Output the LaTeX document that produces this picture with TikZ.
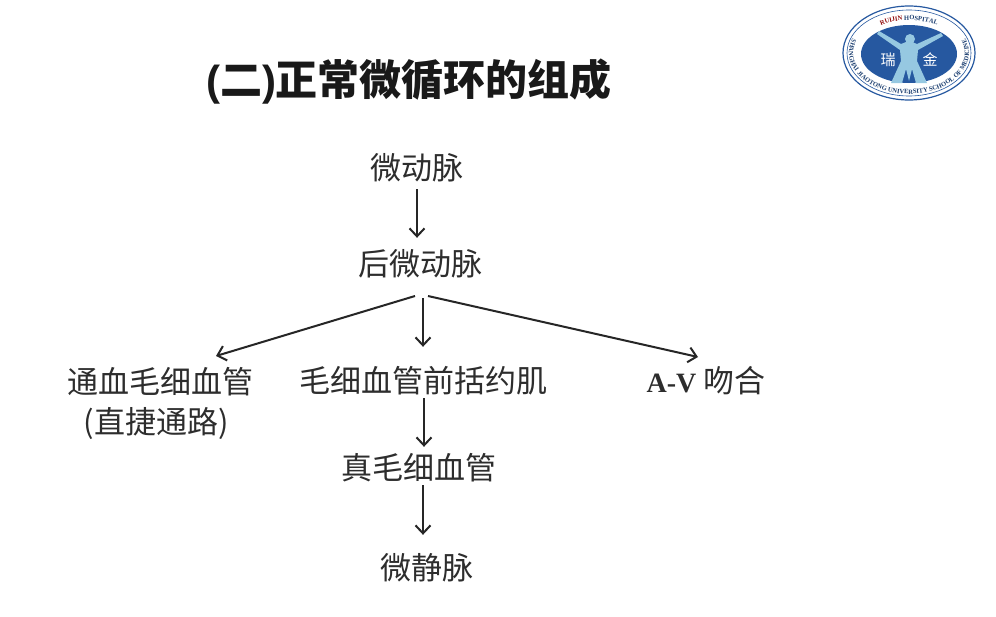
\documentclass[tikz,border=0pt]{standalone}
\usepackage{fontspec}
\usetikzlibrary{decorations.text,arrows.meta}
\setmainfont{Noto Sans CJK SC}
\newfontfamily\latinbold{Liberation Sans}
\newfontfamily\serifbold{Liberation Serif}
\definecolor{logoblue}{RGB}{38,88,160}
\definecolor{logofig}{RGB}{150,200,225}
\definecolor{bodyink}{RGB}{45,45,45}
\begin{document}
\begin{tikzpicture}[x=1pt,y=-1pt,
  every node/.style={inner sep=0pt, minimum height=44pt, text=bodyink, font=\fontsize{31}{36}\selectfont},
  arr/.style={-{Straight Barb[length=8pt,width=15pt]}, line width=2pt, black!85}]
  \path[use as bounding box, fill=white] (0,0) rectangle (996,616);
  \node (title) at (409,82) [text=black!90, font=\fontsize{42}{46}\selectfont\bfseries] {{\latinbold\bfseries (}二{\latinbold\bfseries )}正常微循环的组成};
  \node (weidong) at (417,168) {微动脉};
  \node (houwei) at (420,264) {后微动脉};
  \node (tongxue) at (160,382) {通血毛细血管};
  \node (zhijie) at (156,423) {\fontsize{31}{32}\selectfont (直捷通路)};
  \node (maoqian) at (423,381) {毛细血管前括约肌};
  \node (avwen) at (706,381) {{\serifbold\bfseries\fontsize{28}{30}\selectfont A-V} 吻合};
  \node (zhenmao) at (419,468) {真毛细血管};
  \node (weijing) at (427,568) {微静脉};
  \coordinate (fork) at (423,296);
  \draw[arr] ([yshift=1pt]weidong.south) -- ([xshift=-3pt,yshift=4pt]houwei.north);
  \draw[arr] ([xshift=-8pt]fork) -- (216,356);
  \draw[arr] ([yshift=-2pt]fork) -- ([yshift=12pt]maoqian.north);
  \draw[arr] ([xshift=5pt]fork) -- (698,357);
  \draw[arr] ([xshift=1pt,yshift=5pt]maoqian.south) -- ([xshift=5pt,yshift=-1pt]zhenmao.north);
  \draw[arr] ([xshift=4pt,yshift=5pt]zhenmao.south) -- ([xshift=-4pt,yshift=11pt]weijing.north);
  % logo
  \begin{scope}[shift={(909,53)}]
    \draw[logoblue, line width=1.2pt, fill=white] (0,0) ellipse [x radius=66pt, y radius=47pt];
    \draw[logoblue, line width=.6pt] (0,0) ellipse [x radius=62pt, y radius=43pt];
    \fill[logoblue] (0,1) ellipse [x radius=48pt, y radius=29pt];
    \fill[logofig] (-30,-22) -- (-8,-9) -- (-3,-11) -- (3,-11) -- (8,-9) -- (32,-20) -- (34,-17) -- (9,-3) -- (8,8) -- (18,30) -- (7,30) -- (3,16) -- (0,28) -- (-3,16) -- (-7,30) -- (-18,30) -- (-8,8) -- (-9,-3) -- (-32,-19) -- cycle;
    \fill[logofig] (1,-14) circle [radius=5pt];
    \node (rui) at (-21,7) [text=white, font=\fontsize{15}{15}\selectfont] {瑞};
    \node (jin) at (21,7) [text=white, font=\fontsize{15}{15}\selectfont] {金};
    \path[decorate, decoration={text along path, text align=center,
      text={|\serifbold\bfseries\fontsize{6.5}{7}\selectfont\color{red!55!black}|RUIJIN |\serifbold\bfseries\fontsize{6.5}{7}\selectfont\color{logoblue!70!black}|HOSPITAL}}]
      (150:52pt and 33pt) arc [start angle=150, end angle=30, x radius=52pt, y radius=33pt];
    \path[decorate, decoration={text along path, text align=center,
      text={|\serifbold\bfseries\fontsize{6.5}{7}\selectfont\color{logoblue!70!black}|SHANGHAI JIAOTONG UNIVERSITY SCHOOL OF MEDICINE}}]
      (150:60pt and 41pt) arc [start angle=150, end angle=390, x radius=60pt, y radius=41pt];
  \end{scope}
\end{tikzpicture}
\end{document}
